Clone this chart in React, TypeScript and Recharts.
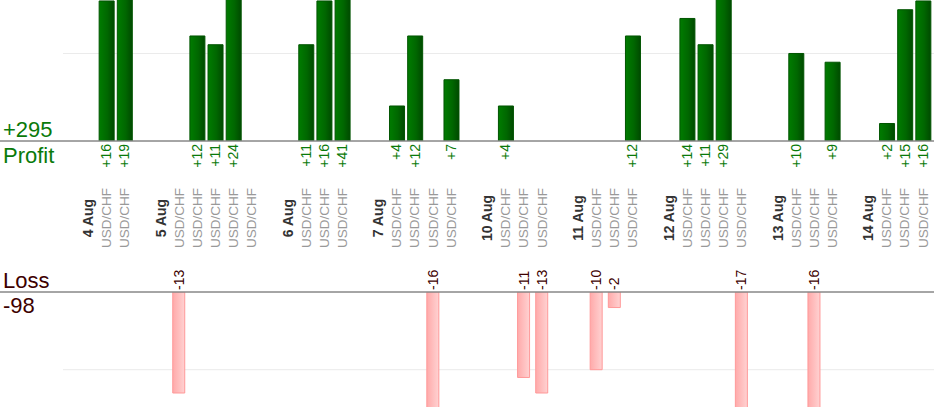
import React from "react";
import { BarChart, Bar, XAxis, YAxis, CartesianGrid, ReferenceLine } from "recharts";

const days = ["4 Aug", "5 Aug", "6 Aug", "7 Aug", "10 Aug", "11 Aug", "12 Aug", "13 Aug", "14 Aug"];
const symbol = "USD/CHF";
// result of every trade (pips), one list per day
const results = [
  [16, 19],
  [-13, 12, 11, 24, 0],
  [11, 16, 41],
  [4, 12, -16, 7],
  [4, -11, -13],
  [-10, -2, 12],
  [14, 11, 29, -17],
  [10, -16, 9],
  [2, 15, 16],
];
const profitTicks = [0, 10];
const lossTicks = [-10, 0];

type Row = {
  id: string;
  kind: "day" | "trade" | "gap";
  label: string;
  profit: number | null;
  loss: number | null;
};

const rows: Row[] = [];
days.forEach((day, d) => {
  if (d > 0) rows.push({ id: `gap-${d}`, kind: "gap", label: "", profit: null, loss: null });
  rows.push({ id: `day-${d}`, kind: "day", label: day, profit: null, loss: null });
  results[d].forEach((v, t) =>
    rows.push({
      id: `t-${d}-${t}`,
      kind: "trade",
      label: symbol,
      profit: v > 0 ? v : null,
      loss: v < 0 ? v : null,
    })
  );
});
const byId: Record<string, Row> = Object.fromEntries(rows.map((r) => [r.id, r]));

const all = results.flat();
const totalProfit = all.filter((v) => v > 0).reduce((a, b) => a + b, 0);
const totalLoss = all.filter((v) => v < 0).reduce((a, b) => a + b, 0);

const font = "'Liberation Sans', Arial, sans-serif";
const green = "#0a7a0a";
const maroon = "#3d0000";

function vText(x: number, y: number, anchor: "start" | "middle" | "end", rest: any, content: React.ReactNode) {
  return (
    <text transform={`rotate(-90 ${x} ${y})`} x={x} y={y} dy="0.35em" textAnchor={anchor} {...rest}>
      {content}
    </text>
  );
}

function ProfitTick({ x, y, payload }: any) {
  const row = byId[payload.value];
  if (!row || row.kind === "gap") return null;
  const mid = y + 77;
  return (
    <g>
      {row.profit != null && vText(x, y + 3, "end", { fill: green, fontSize: 14 }, `+${row.profit}`)}
      {row.kind === "day"
        ? vText(x, mid, "middle", { fill: "#333", fontSize: 14, fontWeight: "bold" }, row.label)
        : vText(x, mid, "middle", { fill: "#999", fontSize: 13.5 }, row.label)}
    </g>
  );
}

function LossTick({ x, y, payload }: any) {
  const row = byId[payload.value];
  if (!row || row.loss == null) return null;
  return vText(x, y - 2, "start", { fill: maroon, fontSize: 14 }, `${row.loss}`);
}

// light grid lines that start a little right of the left labels; skip the plot edges
const gridLine = (p: any) => {
  const top = p.y ?? 0;
  const bottom = top + (p.height ?? 0);
  if (Math.abs(p.y1 - top) < 1 || Math.abs(p.y1 - bottom) < 1) return <g key={p.key ?? `g-${p.y1}`} />;
  return <line key={p.key ?? `g-${p.y1}`} x1={63} y1={p.y1} x2={p.x2} y2={p.y2} stroke="#ebebeb" strokeWidth={1} />;
};

export default function App() {
  return (
    <div style={{ position: "absolute", left: 0, top: 0, width: 934, height: 420, background: "#fff", fontFamily: font }}>
      <div style={{ position: "absolute", left: 0, top: 0 }}>
        <BarChart width={934} height={280} data={rows} margin={{ top: 0, right: 0, bottom: 0, left: 0 }}>
          <defs>
            <linearGradient id="profitFill" x1="0" y1="0" x2="1" y2="0">
              <stop offset="0%" stopColor="#007c00" />
              <stop offset="55%" stopColor="#006700" />
              <stop offset="100%" stopColor="#004a00" />
            </linearGradient>
          </defs>
          <CartesianGrid vertical={false} horizontal={gridLine} />
          <XAxis
            dataKey="id"
            interval={0}
            height={139}
            padding={{ left: 79, right: 2 }}
            tick={<ProfitTick />}
            tickLine={false}
            tickSize={0}
            tickMargin={0}
            axisLine={{ stroke: "#888" }}
          />
          <YAxis hide domain={[0, 16.11]} ticks={profitTicks} allowDataOverflow />
          <ReferenceLine
            y={0}
            stroke="#888"
            label={(p: any) => (
              <g fontSize={22} fill={green} fontFamily={font}>
                <text x={3} y={p.viewBox.y - 4}>+{totalProfit}</text>
                <text x={3} y={p.viewBox.y + 22}>Profit</text>
              </g>
            )}
          />
          <Bar dataKey="profit" barSize={15} fill="url(#profitFill)" stroke="#005400" strokeWidth={1} isAnimationActive={false} />
        </BarChart>
      </div>
      <div style={{ position: "absolute", left: 0, top: 250 }}>
        <BarChart width={934} height={170} data={rows} margin={{ top: 0, right: 0, bottom: 13, left: 0 }}>
          <defs>
            <linearGradient id="lossFill" x1="0" y1="0" x2="1" y2="0">
              <stop offset="0%" stopColor="#ffaaaa" />
              <stop offset="100%" stopColor="#ffd2d2" />
            </linearGradient>
          </defs>
          <CartesianGrid vertical={false} horizontal={gridLine} />
          <XAxis
            dataKey="id"
            orientation="top"
            interval={0}
            height={42}
            padding={{ left: 79, right: 2 }}
            tick={<LossTick />}
            tickLine={false}
            tickSize={0}
            tickMargin={0}
            axisLine={{ stroke: "#888" }}
          />
          <YAxis hide domain={[-14.8, 0]} ticks={lossTicks} allowDataOverflow />
          <ReferenceLine
            y={0}
            stroke="#888"
            label={(p: any) => (
              <g fontSize={22} fill={maroon} fontFamily={font}>
                <text x={3} y={p.viewBox.y - 4}>Loss</text>
                <text x={3} y={p.viewBox.y + 21}>{totalLoss}</text>
              </g>
            )}
          />
          <Bar dataKey="loss" barSize={12} fill="url(#lossFill)" stroke="#ff9999" strokeWidth={1} isAnimationActive={false} />
        </BarChart>
      </div>
    </div>
  );
}
